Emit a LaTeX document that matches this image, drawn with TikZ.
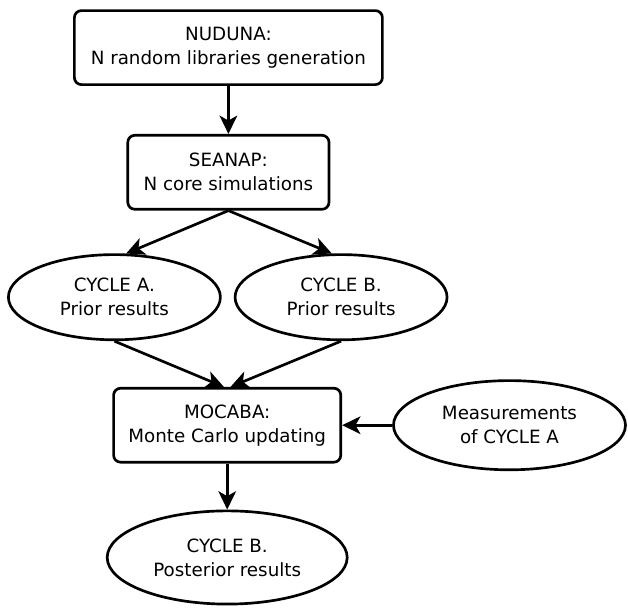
\documentclass[tikz,border=0pt]{standalone}
\usepackage{fontspec}
\setmainfont{DejaVu Sans}
\usepackage{tikz}
\usetikzlibrary{arrows.meta,positioning,shapes.geometric}

\begin{document}
\begin{tikzpicture}[
  >={Stealth[length=13pt,width=12.5pt,inset=3.5pt]},
  box/.style={draw=black, rounded corners=5pt, line width=1.9pt, fill=white, minimum height=1.85cm, font=\fontsize{13}{17}\selectfont, align=center},
  oval/.style={draw=black, ellipse, line width=1.9pt, fill=white, minimum width=5.3cm, minimum height=2.13cm, inner sep=0pt, font=\fontsize{13}{17}\selectfont, align=center},
  arrow/.style={->, line width=1.9pt, black}
]
\useasboundingbox (0,0) rectangle (15.7,-15.2);

\node[box, minimum width=7.7cm] (nuduna) at (5.71,-1.19) {NUDUNA:\\N random libraries generation};
\node[box, minimum width=5.03cm, below=1.2cm of nuduna] (seanap) {SEANAP:\\N core simulations};
\node[oval] (cyca) at (2.86,-7.43) {CYCLE A.\\Prior results};
\node[oval, right=0.3cm of cyca] (cycb) {CYCLE B.\\Prior results};
\node[box, minimum width=5.68cm] (mocaba) at (5.68,-10.63) {MOCABA:\\Monte Carlo updating};
\node[oval, minimum width=5.8cm, minimum height=2.23cm, right=1.25cm of mocaba] (meas) {Measurements\\of CYCLE A};
\node[oval, minimum width=6cm, minimum height=2.33cm, below=1.15cm of mocaba] (post) {CYCLE B.\\Posterior results};

\draw[arrow] (nuduna) -- (seanap);
\draw[arrow] (seanap.south) -- (cyca.75);
\draw[arrow] (seanap.south) -- (cycb.102);
\draw[arrow] (cyca.south) -- (mocaba.95);
\draw[arrow] (cycb.south) -- (mocaba.85);
\draw[arrow] (meas) -- (mocaba);
\draw[arrow] (mocaba) -- (post);

\end{tikzpicture}
\end{document}
